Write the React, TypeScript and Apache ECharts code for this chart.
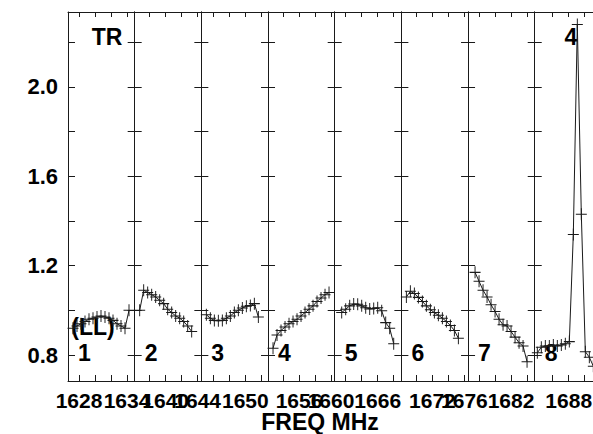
import React, { useEffect, useRef } from 'react';
import * as echarts from 'echarts';

// ---- data ----
const panelNames = ['1', '2', '3', '4', '5', '6', '7', '8'];
const axisMinMHz = [1626.625, 1636.125, 1644.5, 1652.125, 1660.625, 1668.125, 1676.625, 1683.75];
const firstChanMHz = [1627.25, 1636.75, 1645.125, 1652.75, 1661.5, 1668.75, 1677.5, 1684.075];
const chanWidthMHz = 0.5;
const panelSpanMHz = 8.334;
const tickMHz = [
  [1628, 1630, 1632, 1634],
  [1638, 1640, 1642, 1644],
  [1646, 1648, 1650, 1652],
  [1654, 1656, 1658, 1660],
  [1662, 1664, 1666, 1668],
  [1670, 1672, 1674, 1676],
  [1678, 1680, 1682, 1684],
  [1686, 1688, 1690],
];
const labelMHz = [
  [1628, 1634],
  [1640, 1644],
  [1650],
  [1656, 1660],
  [1666],
  [1672, 1676],
  [1682],
  [1688],
];
const amp1 = [0.92, 0.93, 0.94, 0.95, 0.96, 0.965, 0.97, 0.975, 0.97, 0.965, 0.955, 0.94, 0.93, 0.92, 1.0];
const amp2 = [1.0, 1.09, 1.08, 1.07, 1.06, 1.045, 1.03, 1.005, 0.99, 0.975, 0.965, 0.95, 0.93, 0.905];
const amp3 = [0.98, 0.965, 0.955, 0.953, 0.955, 0.965, 0.975, 0.99, 1.0, 1.01, 1.018, 1.022, 1.03, 0.97];
const amp4 = [0.83, 0.89, 0.91, 0.925, 0.94, 0.95, 0.96, 0.975, 0.99, 1.005, 1.02, 1.04, 1.055, 1.07, 1.08];
const amp5 = [0.99, 1.005, 1.02, 1.028, 1.027, 1.02, 1.012, 1.006, 1.008, 1.012, 0.998, 0.945, 0.92, 0.85];
const amp6 = [1.06, 1.085, 1.075, 1.058, 1.04, 1.02, 1.003, 0.99, 0.978, 0.965, 0.95, 0.932, 0.91, 0.875];
const amp7 = [1.17, 1.13, 1.09, 1.06, 1.025, 0.995, 0.96, 0.935, 0.93, 0.905, 0.88, 0.855, 0.84, 0.77];
const amp8 = [0.81, 0.835, 0.84, 0.84, 0.845, 0.84, 0.845, 0.85, 0.86, 1.34, 2.28, 1.43, 0.815, 0.79, 0.75];
const amps = [amp1, amp2, amp3, amp4, amp5, amp6, amp7, amp8];
const yTicks = [0.8, 1.0, 1.2, 1.4, 1.6, 1.8, 2.0, 2.2];
const yLabels = [0.8, 1.2, 1.6, 2.0];
const yMin = 0.6836;
const yMax = 2.3358;

const W = 593;
const H = 434;
const CANVAS_W = 612;
const LEFT = 68;
const TOP = 12;
const PW = 66.675;
const PH = 369;
const INK = '#1a1a1a';
const BOLD = "bold 23px 'Liberation Sans', Arial, sans-serif";
const CROSS = 'path://M0,5L10,5M5,0L5,10';

export default function App() {
  const ref = useRef<HTMLDivElement>(null);
  useEffect(() => {
    if (!ref.current) return;
    const chart = echarts.init(ref.current, null, { renderer: 'svg' });
    const axisLine = { show: true, lineStyle: { color: INK, width: 1 } };
    const grids = panelNames.map((_, k) => ({ left: LEFT + k * PW, top: TOP, width: PW, height: PH }));

    // bottom axes: one per label so that touching labels are all drawn
    const xAxes: any[] = [];
    const mainX: number[] = [];
    panelNames.forEach((_, k) => {
      labelMHz[k].forEach((lab, j) => {
        if (j === 0) mainX.push(xAxes.length);
        xAxes.push({
          type: 'value', gridIndex: k, position: 'bottom',
          min: axisMinMHz[k], max: axisMinMHz[k] + panelSpanMHz,
          axisLine: j === 0 ? axisLine : { show: false }, splitLine: { show: false },
          axisTick: j === 0
            ? { show: true, inside: true, length: 6, customValues: tickMHz[k], lineStyle: { color: INK } }
            : { show: false },
          axisLabel: {
            show: true, customValues: [lab], margin: 9, color: '#000', hideOverlap: false,
            fontFamily: "'Liberation Sans Narrow', 'Arial Narrow', 'Liberation Sans', Arial",
            fontWeight: 'bold', fontSize: 21, formatter: (v: number) => String(Math.round(v)),
          },
        });
      });
    });
    panelNames.forEach((_, k) => {
      xAxes.push({
        type: 'value', gridIndex: k, position: 'top',
        min: axisMinMHz[k], max: axisMinMHz[k] + panelSpanMHz,
        axisLine, splitLine: { show: false },
        axisTick: { show: true, inside: true, length: 5, customValues: tickMHz[k], lineStyle: { color: INK } },
        axisLabel: { show: false },
      });
    });
    const yLeft = panelNames.map((_, k) => ({
      type: 'value', gridIndex: k, position: 'left', min: yMin, max: yMax,
      axisLine, splitLine: { show: false },
      axisTick: { show: true, inside: true, length: 7, customValues: yTicks, lineStyle: { color: INK } },
      axisLabel: k === 0 ? {
        show: true, customValues: yLabels, margin: 10, color: '#000',
        fontFamily: "'Liberation Sans', Arial", fontWeight: 'bold', fontSize: 22,
        formatter: (v: number) => v.toFixed(1),
      } : { show: false },
    }));
    const yRight = panelNames.map((_, k) => ({
      type: 'value', gridIndex: k, position: 'right', min: yMin, max: yMax,
      axisLine, splitLine: { show: false },
      axisTick: { show: true, inside: true, length: 7, customValues: yTicks, lineStyle: { color: INK } },
      axisLabel: { show: false },
    }));
    const series = panelNames.map((_, k) => ({
      type: 'line', xAxisIndex: mainX[k], yAxisIndex: k,
      data: amps[k].map((v, i) => [firstChanMHz[k] + i * chanWidthMHz, v]),
      symbol: CROSS, symbolSize: [11, 12],
      lineStyle: { color: INK, width: 1 },
      itemStyle: { color: INK, borderColor: INK, borderWidth: 1 },
      emphasis: { disabled: true },
    }));
    const texts: any[] = [
      { type: 'text', x: 107, y: 37, style: { text: 'TR', font: BOLD, fill: '#000', align: 'center', verticalAlign: 'middle' } },
      { type: 'text', x: 93, y: 327, style: { text: '(LL)', font: BOLD, fill: '#000', align: 'center', verticalAlign: 'middle' } },
      { type: 'text', x: 571, y: 37, style: { text: '4', font: BOLD, fill: '#000', align: 'center', verticalAlign: 'middle' } },
      { type: 'text', x: 320, y: 422, style: { text: 'FREQ MHz', font: BOLD, fill: '#000', align: 'center', verticalAlign: 'middle' } },
      ...panelNames.map((n, k) => ({
        type: 'text', x: LEFT + k * PW + 10, y: 353,
        style: { text: n, font: BOLD, fill: '#000', align: 'left', verticalAlign: 'middle' },
      })),
    ];
    chart.setOption({
      animation: false,
      grid: grids,
      xAxis: xAxes,
      yAxis: [...yLeft, ...yRight],
      series,
      graphic: texts,
    });
    return () => chart.dispose();
  }, []);
  return (
    <div style={{ position: 'fixed', left: 0, top: 0, width: W, height: H, overflow: 'hidden', background: '#fff' }}>
      <div ref={ref} style={{ width: CANVAS_W, height: H }} />
    </div>
  );
}
